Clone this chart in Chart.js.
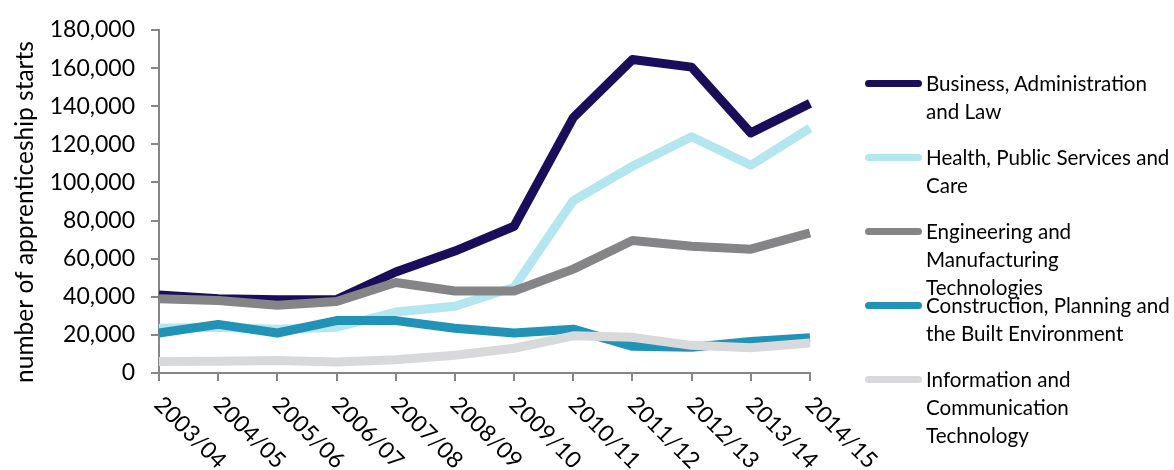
<!DOCTYPE html>
<html>
<head>
<meta charset="utf-8">
<script src="https://cdn.jsdelivr.net/npm/chart.js@4"></script>
<style>
html,body{margin:0;padding:0;background:#fff;}
#wrap{position:relative;width:1174px;height:470px;overflow:hidden;}
#c{position:absolute;left:0;top:0;}
.li{position:absolute;left:865px;}
.li .sw{position:absolute;left:0;top:10px;width:57px;height:7px;border-radius:4px;}
.li .tx{position:absolute;left:61px;top:-1px;white-space:pre;font-family:Lato,sans-serif;font-size:20.6px;line-height:28px;color:#000;}
</style>
</head>
<body>
<div id="wrap"><canvas id="c" width="1174" height="470" style="width:1174px;height:470px"></canvas></div>
<script>
const categories = ['2003/04','2004/05','2005/06','2006/07','2007/08','2008/09','2009/10','2010/11','2011/12','2012/13','2013/14','2014/15'];
const seriesNames = ['Business, Administration\nand Law','Health, Public Services and\nCare','Engineering and\nManufacturing\nTechnologies','Construction, Planning and\nthe Built Environment','Information and\nCommunication\nTechnology'];
const business = [41000, 39000, 38500, 38500, 53000, 64000, 77000, 134000, 164500, 160500, 126000, 141500];
const health = [23500, 24000, 23000, 24000, 32000, 35000, 45000, 90500, 108500, 124000, 109000, 128500];
const engineering = [39000, 38000, 35500, 37500, 47500, 43000, 43000, 54500, 69500, 66500, 65000, 73500];
const construction = [21000, 25500, 21000, 27500, 27500, 23500, 21000, 23000, 14000, 13500, 16500, 18500];
const ict = [6000, 6200, 6500, 5800, 7000, 9300, 13000, 19500, 18700, 14500, 13300, 15700];
const yTicks = [0, 20000, 40000, 60000, 80000, 100000, 120000, 140000, 160000, 180000];
const yTitle = 'number of apprenticeship starts';
const colors = ['#1a0d5a','#b3e6ef','#858587','#2193b7','#d8d9db'];
const seriesValues = [business, health, engineering, construction, ict];

const axisColor = '#868686';
const labelFont = '23px Lato, sans-serif';
const titleFont = '24.5px Lato, sans-serif';

const customText = {
  id: 'customText',
  afterDraw(chart) {
    const ctx = chart.ctx;
    const xs = chart.scales.x;
    ctx.save();
    ctx.fillStyle = '#000';
    ctx.font = labelFont;
    ctx.textAlign = 'left';
    ctx.textBaseline = 'alphabetic';
    categories.forEach((c, i) => {
      const px = xs.getPixelForValue(i);
      ctx.save();
      ctx.translate(px - 6, xs.top + 33);
      ctx.rotate(Math.PI / 4);
      ctx.fillText(c, 0, 0);
      ctx.restore();
    });
    ctx.save();
    ctx.font = titleFont;
    ctx.translate(25, 212);
    ctx.rotate(-Math.PI / 2);
    ctx.textAlign = 'center';
    ctx.textBaseline = 'middle';
    ctx.fillText(yTitle, 0, 0);
    ctx.restore();
    ctx.restore();
  }
};

function build() {
  const datasets = seriesValues.map((vals, i) => ({
    label: seriesNames[i].replace(/\n/g, ' '),
    data: vals,
    borderColor: colors[i],
    backgroundColor: colors[i],
    borderWidth: 9,
    pointRadius: 0,
    pointHoverRadius: 0,
    tension: 0,
    fill: false,
    borderJoinStyle: 'round',
    borderCapStyle: 'butt',
    order: seriesValues.length - i
  }));
  new Chart(document.getElementById('c'), {
    type: 'line',
    data: { labels: categories, datasets },
    plugins: [customText],
    options: {
      responsive: false,
      animation: false,
      devicePixelRatio: 1,
      layout: { padding: { left: 0, right: 364, top: 30, bottom: 0 } },
      plugins: { legend: { display: false }, tooltip: { enabled: false } },
      scales: {
        x: {
          type: 'category',
          offset: false,
          grid: { display: true, drawOnChartArea: false, drawTicks: true, tickLength: 8, color: axisColor, lineWidth: 2 },
          border: { display: true, color: axisColor, width: 2 },
          ticks: { display: false },
          afterFit(s) { s.height = 97; }
        },
        y: {
          min: 0,
          max: 180000,
          afterBuildTicks(s) { s.ticks = yTicks.map(v => ({ value: v })); },
          ticks: {
            stepSize: 20000,
            color: '#000',
            font: { family: 'Lato, sans-serif', size: 23 },
            padding: 16,
            callback: v => Number(v).toLocaleString('en-US')
          },
          grid: { display: true, drawOnChartArea: false, drawTicks: true, tickLength: 8, color: axisColor, lineWidth: 2 },
          border: { display: true, color: axisColor, width: 2 },
          afterFit(s) { s.width = 159; }
        }
      }
    }
  });

  const wrap = document.getElementById('wrap');
  const tops = [70, 144, 218, 292, 366];
  seriesNames.forEach((n, i) => {
    const d = document.createElement('div');
    d.className = 'li';
    d.style.top = tops[i] + 'px';
    const sw = document.createElement('div');
    sw.className = 'sw';
    sw.style.background = colors[i];
    const tx = document.createElement('div');
    tx.className = 'tx';
    tx.textContent = n;
    d.appendChild(sw);
    d.appendChild(tx);
    wrap.appendChild(d);
  });
}

if (document.fonts && document.fonts.load) {
  document.fonts.load(labelFont).then(build, build);
} else {
  build();
}
</script>
</body>
</html>
